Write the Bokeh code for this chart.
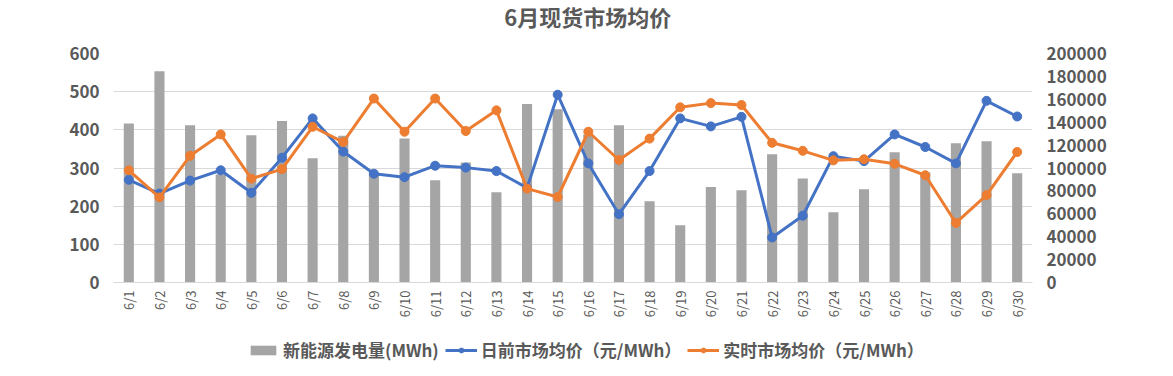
import math
from bokeh.plotting import figure
from bokeh.layouts import column
from bokeh.core.properties import value
from bokeh.models import (Range1d, LinearAxis, Legend, LegendItem, FactorRange,
                          SingleIntervalTicker, NumeralTickFormatter)
from bokeh.embed import file_html
from bokeh.resources import INLINE

dates = ["6/1", "6/2", "6/3", "6/4", "6/5", "6/6", "6/7", "6/8", "6/9", "6/10",
         "6/11", "6/12", "6/13", "6/14", "6/15", "6/16", "6/17", "6/18", "6/19", "6/20",
         "6/21", "6/22", "6/23", "6/24", "6/25", "6/26", "6/27", "6/28", "6/29", "6/30"]

energy = [138900, 184600, 137400, 94300, 128700, 141000, 108600, 128100, 95500, 125800,
          89400, 104800, 78900, 155800, 151400, 129300, 137400, 71000, 50100, 83300,
          80600, 112100, 90800, 61400, 81500, 113800, 96000, 121700, 123400, 95500]

day_ahead = [269, 233, 267, 294, 235, 327, 430, 343, 285, 276,
             306, 301, 292, 248, 492, 312, 179, 292, 430, 409,
             434, 118, 175, 331, 318, 388, 355, 312, 476, 435]

real_time = [294, 223, 332, 388, 272, 297, 408, 368, 482, 395,
             482, 397, 451, 246, 224, 395, 321, 377, 459, 470,
             465, 366, 345, 320, 323, 311, 281, 156, 229, 342]

title_text = "6月现货市场均价"
label_energy = "新能源发电量(MWh)"
label_da = "日前市场均价（元/MWh）"
label_rt = "实时市场均价（元/MWh）"

FONT = "Noto Sans CJK SC"
GRAY = "#595959"
BAR = "#A5A5A5"
BLUE = "#4472C4"
ORANGE = "#ED7D31"


def blank_fig(h):
    f = figure(width=1157, height=h, output_backend="svg", toolbar_location=None,
               x_range=Range1d(0, 1), y_range=Range1d(0, 1),
               min_border_left=0, min_border_right=0, min_border_top=0, min_border_bottom=0,
               x_axis_type=None, y_axis_type=None)
    f.outline_line_color = None
    f.grid.visible = False
    return f


# title strip
tf = blank_fig(38)
tf.text(x=[0.516], y=[0.58], text=[title_text], text_font=value(FONT), text_font_size="22px",
        text_font_style="bold", text_color=GRAY, text_align="center", text_baseline="middle")

# main chart
p = figure(width=1157, height=300, x_range=FactorRange(*dates), y_range=Range1d(0, 600),
           output_backend="svg", toolbar_location=None,
           min_border_left=113, min_border_right=125, min_border_top=15, min_border_bottom=56)
p.extra_y_ranges = {"right": Range1d(0, 200000)}

p.outline_line_color = None
p.xgrid.grid_line_color = None
p.ygrid.grid_line_color = "#D9D9D9"
p.ygrid.grid_line_width = 1

# left axis
ya = p.yaxis[0]
ya.ticker = SingleIntervalTicker(interval=100)
ya.axis_line_color = None
ya.major_tick_line_color = None
ya.minor_tick_line_color = None
ya.major_tick_out = 0
ya.major_tick_in = 0
ya.major_label_text_font = FONT
ya.major_label_text_font_size = "17px"
ya.major_label_text_font_style = "bold"
ya.major_label_text_color = GRAY
ya.major_label_standoff = 10

# right axis
ry = LinearAxis(y_range_name="right", ticker=SingleIntervalTicker(interval=20000),
                formatter=NumeralTickFormatter(format="0"))
ry.axis_line_color = None
ry.major_tick_line_color = None
ry.minor_tick_line_color = None
ry.major_tick_out = 0
ry.major_tick_in = 0
ry.major_label_text_font = FONT
ry.major_label_text_font_size = "17px"
ry.major_label_text_font_style = "bold"
ry.major_label_text_color = GRAY
ry.major_label_standoff = 10
p.add_layout(ry, "right")

# x axis
xa = p.xaxis[0]
xa.axis_line_color = "#D9D9D9"
xa.major_tick_line_color = None
xa.minor_tick_line_color = None
xa.major_tick_out = 0
xa.major_tick_in = 0
xa.major_label_orientation = math.pi / 2
xa.major_label_text_font = FONT
xa.major_label_text_font_size = "13px"
xa.major_label_text_color = GRAY
xa.major_label_standoff = 8

bars = p.vbar(x=dates, top=energy, width=0.33, y_range_name="right",
              fill_color=BAR, line_color=None)
l1 = p.line(x=dates, y=day_ahead, line_color=BLUE, line_width=3)
c1 = p.scatter(x=dates, y=day_ahead, size=9, fill_color=BLUE, line_color=BLUE)
l2 = p.line(x=dates, y=real_time, line_color=ORANGE, line_width=3)
c2 = p.scatter(x=dates, y=real_time, size=9, fill_color=ORANGE, line_color=ORANGE)

# legend strip below the chart (proxy renderers placed outside the visible range)
lg = blank_fig(38)
far = [-10]
lb = lg.vbar(x=far, top=far, width=0.33, fill_color=BAR, line_color=None)
ll1 = lg.line(x=far, y=far, line_color=BLUE, line_width=3)
lc1 = lg.scatter(x=far, y=far, size=9, fill_color=BLUE, line_color=BLUE)
ll2 = lg.line(x=far, y=far, line_color=ORANGE, line_width=3)
lc2 = lg.scatter(x=far, y=far, size=9, fill_color=ORANGE, line_color=ORANGE)

legend = Legend(items=[
    LegendItem(label=label_energy, renderers=[lb]),
    LegendItem(label=label_da, renderers=[ll1, lc1]),
    LegendItem(label=label_rt, renderers=[ll2, lc2]),
], orientation="horizontal", location=(134, 14))
legend.label_text_font = FONT
legend.label_text_font_size = "17px"
legend.label_text_font_style = "bold"
legend.label_text_color = GRAY
legend.border_line_color = None
legend.background_fill_alpha = 0
legend.glyph_width = 32
legend.glyph_height = 12
legend.spacing = 6
legend.label_standoff = 4
legend.margin = 0
legend.padding = 0
lg.add_layout(legend)

layout = column(tf, p, lg, spacing=0)
open("out.html", "w").write(file_html(layout, INLINE))
